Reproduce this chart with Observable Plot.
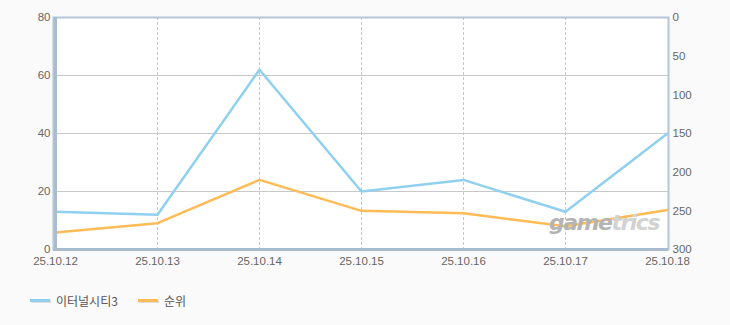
<!DOCTYPE html>
<html><head><meta charset="utf-8">
<script src="https://cdn.jsdelivr.net/npm/d3@7"></script>
<script src="https://cdn.jsdelivr.net/npm/@observablehq/plot@0.6"></script>
<style>
body{margin:0;background:#fafafa;font-family:"Noto Sans CJK KR","DejaVu Sans",sans-serif;}
#wrap{position:relative;width:730px;height:325px;background:#fafafa;}
#wm{position:absolute;left:549px;top:210px;font:italic bold 22px "DejaVu Sans",sans-serif;letter-spacing:-1.5px;}
#legend{position:absolute;left:30px;top:292px;font-size:12px;color:#555;display:flex;align-items:center;}
.sw{display:inline-block;width:20px;height:3px;margin-right:6px;box-shadow:1px 1px 0 #ddd;}
.it{display:flex;align-items:center;margin-right:20px;}
</style></head>
<body><div id="wrap"><div id="chart"></div>
<div id="wm"><span style="color:#b4b4b4">game</span><span style="color:#d2d2d2">trics</span></div>
<div id="legend"></div></div>
<script>
const dates = ["25.10.12","25.10.13","25.10.14","25.10.15","25.10.16","25.10.17","25.10.18"];
const seriesNames = ["이터널시티3","순위"];
const players = [13, 12, 62, 20, 24, 13, 40];
const ranks = [278, 266, 210, 250, 253, 270, 249];
const leftTicks = [0, 20, 40, 60, 80];
const rightTicks = [0, 50, 100, 150, 200, 250, 300];
const bands = [[40, 60], [0, 20]];
const colors = ["#8fd0f0", "#ffbb55"];

const rankToY = r => 80 * (1 - r / 300);
const rows = dates.map((d, i) => ({date: d, players: players[i], rank: ranks[i]}));
const tf = "'Liberation Sans',Arial,sans-serif";

const chart = Plot.plot({
  width: 730, height: 275,
  marginLeft: 53, marginRight: 62, marginTop: 17, marginBottom: 26,
  style: {background: "transparent", fontSize: "11.5px", color: "#666", fontFamily: tf},
  x: {type: "point", domain: dates, padding: 0},
  y: {domain: [0, 80]},
  marks: [
    Plot.frame({fill: "#ffffff"}),
    Plot.rect(bands, {x1: dates[0], x2: dates[dates.length-1], y1: d => d[0], y2: d => d[1], fill: "#f9f9f9"}),
    Plot.ruleY([20, 40, 60], {stroke: "#c8c8c8", strokeWidth: 1}),
    Plot.ruleX(dates.slice(1, -1), {stroke: "#c8c8c8", strokeDasharray: "3,2"}),
    Plot.axisY(leftTicks, {anchor: "left", label: null, tickSize: 0, tickPadding: 3, fill: "#666", fontSize: 11.5}),
    Plot.axisY(rightTicks.map(rankToY), {anchor: "right", label: null, tickSize: 0, tickPadding: 4, fill: "#666", fontSize: 11.5,
      tickFormat: v => Math.round(300 * (1 - v / 80))}),
    Plot.axisX(dates, {label: null, tickSize: 0, tickPadding: 7, fill: "#666", fontSize: 11.5}),
    Plot.line(rows, {x: "date", y: "players", stroke: colors[0], strokeWidth: 2.5}),
    Plot.line(rows, {x: "date", y: d => rankToY(d.rank), stroke: colors[1], strokeWidth: 2.5}),
    Plot.frame({stroke: "#b4c6d8", strokeWidth: 2}),
    Plot.ruleX([dates[0]], {stroke: "#a9bcd0", strokeWidth: 3}),
    Plot.ruleY([0], {stroke: "#a9bcd0", strokeWidth: 3})
  ]
});
document.getElementById("chart").appendChild(chart);

const lg = document.getElementById("legend");
seriesNames.forEach((n, i) => {
  const it = document.createElement("div"); it.className = "it";
  const sw = document.createElement("span"); sw.className = "sw"; sw.style.background = colors[i];
  it.appendChild(sw); it.appendChild(document.createTextNode(n)); lg.appendChild(it);
});
</script></body></html>
